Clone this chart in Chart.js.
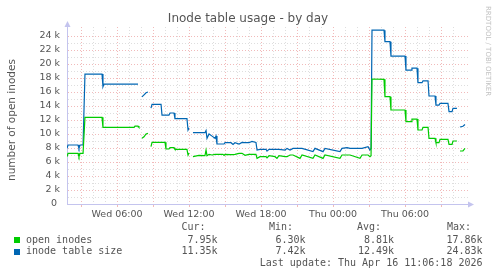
<!DOCTYPE html>
<html>
<head>
<meta charset="utf-8">
<script src="https://cdn.jsdelivr.net/npm/chart.js@4"></script>
<style>
  html, body { margin: 0; padding: 0; background: #fff; }
  #chart { display: block; }
</style>
</head>
<body>
<canvas id="chart" width="497" height="276"></canvas>
<script>
// hours since Wed 00:00 (one munin sample every 5 min, only the turning points kept)
const hours = [
    1.83, 1.92, 2.75, 2.83, 2.92, 3.17, 3.33, 4.75, 4.83, 4.92,
    7.42, 7.5, 7.75, 7.83, 7.92, 8.08, 8.25, 8.42, 8.58, 8.67,
    8.83, 8.92, 9.67, 9.75, 10.0, 10.08, 10.33, 10.42, 10.75, 10.83,
    11.83, 11.92, 12.0, 12.08, 12.33, 12.83, 13.33, 13.42, 13.5, 13.67,
    13.92, 14.17, 14.25, 14.33, 14.83, 14.92, 15.0, 15.5, 15.67, 15.83,
    16.17, 16.42, 16.67, 17.0, 17.25, 17.58, 17.67, 17.92, 18.42, 18.5,
    18.67, 19.17, 19.33, 19.5, 20.0, 20.17, 20.42, 20.67, 21.25, 21.42,
    22.33, 22.5, 23.17, 23.33, 24.58, 24.75, 25.17, 25.42, 26.25, 26.42,
    26.92, 27.08, 27.17, 27.25, 28.25, 28.33, 28.75, 28.83, 30.0, 30.08,
    30.5, 30.58, 31.0, 31.08, 31.42, 31.5, 31.92, 32.0, 32.5, 32.58,
    32.83, 32.92, 33.58, 33.67, 33.92, 34.0, 34.33, 34.42, 34.58, 34.83,
    35.0
];

// thousands of inodes
const openInodes = [
    6.76, 7.24, 7.24, 6.76, 7.24, 7.24, 12.38, 12.38, 10.95, 10.95,
    10.95, 11.14, 11.14, 10.95, null, 9.4, 9.6, 10.0, 10.1, null,
    8.2, 8.81, 8.81, 8.81, 8.81, 7.86, 7.86, 8.05, 8.05, 7.81,
    7.81, 7.0, 7.3, null, 6.76, 6.95, 6.9, 7.71, 6.9, 7.1,
    7.0, 7.1, 7.1, 7.1, 7.1, 6.95, 7.1, 7.05, 7.05, 7.1,
    7.24, 7.24, 6.95, 7.1, 7.1, 7.1, 6.52, 6.76, 6.76, 6.6,
    6.9, 6.76, 6.52, 6.9, 6.76, 6.76, 7.0, 7.0, 6.52, 7.0,
    6.52, 7.0, 6.52, 7.0, 6.52, 7.0, 7.0, 7.0, 6.52, 7.0,
    7.0, 6.76, 6.9, 17.86, 17.81, 15.33, 15.33, 13.43, 13.43, 11.76,
    11.76, 12.14, 12.14, 10.57, 10.57, 10.95, 10.95, 9.38, 9.38, 8.76,
    8.76, 9.24, 9.24, 8.53, 8.53, 9.0, 9.0, null, 7.57, 7.6,
    7.95
];

const tableSize = [
    7.95, 8.43, 8.43, 7.95, 8.43, 8.43, 18.57, 18.57, 16.76, 17.14,
    17.14, 17.14, 17.14, 17.14, null, 15.3, 15.6, 15.9, 16.0, null,
    13.7, 14.24, 14.24, 12.7, 12.7, 12.7, 12.7, 13.0, 13.0, 12.2,
    12.2, 10.57, 10.85, null, 10.19, 10.19, 10.19, 10.5, 9.38, 10.0,
    9.7, 9.38, 9.7, 8.57, 8.57, 8.57, 8.76, 8.76, 8.5, 8.76,
    8.57, 8.8, 8.76, 8.76, 8.95, 8.8, 7.71, 7.81, 7.81, 7.55,
    7.81, 7.81, 7.81, 7.81, 7.71, 7.95, 7.71, 7.95, 7.95, 7.95,
    7.48, 7.95, 7.48, 7.95, 7.48, 7.95, 8.05, 7.95, 7.95, 7.95,
    8.2, 7.71, 7.95, 24.83, 24.83, 23.19, 23.19, 21.14, 21.14, 19.14,
    19.14, 19.4, 19.4, 17.33, 17.33, 17.6, 17.6, 15.43, 15.43, 14.14,
    14.14, 14.38, 14.38, 13.19, 13.19, 13.67, 13.67, null, 11.0, 11.1,
    11.35
];

const tickHours = [6, 12, 18, 24, 30];
const tickLabels = ['Wed 06:00', 'Wed 12:00', 'Wed 18:00', 'Thu 00:00', 'Thu 06:00'];

const seriesNames = ['open inodes', 'inode table size'];
const seriesColors = ['#00cc00', '#0066b3'];
const curValues = ['7.95k', '11.35k'];
const minValues = ['6.30k', '7.42k'];
const avgValues = ['8.81k', '12.49k'];
const maxValues = ['17.86k', '24.83k'];

const MAJOR = 'rgba(232, 140, 140, 0.6)';
const MINOR = 'rgba(200, 200, 200, 0.6)';
const AXIS = '#c4c4ee';
const TEXT = '#555';

const toPoints = (vals) => hours.map((h, i) => ({ x: h, y: vals[i] }));

// title, axis title, legend table and the axis arrows
const muninDecor = {
    id: 'muninDecor',
    afterDraw(chart) {
        const ctx = chart.ctx;
        const area = chart.chartArea;
        ctx.save();

        // arrows
        ctx.fillStyle = AXIS;
        ctx.beginPath();
        ctx.moveTo(area.right + 6, area.bottom + 0.5);
        ctx.lineTo(area.right, area.bottom - 2.5);
        ctx.lineTo(area.right, area.bottom + 3.5);
        ctx.fill();
        ctx.beginPath();
        ctx.moveTo(area.left + 0.5, area.top - 6);
        ctx.lineTo(area.left - 2.5, area.top);
        ctx.lineTo(area.left + 3.5, area.top);
        ctx.fill();
        ctx.strokeStyle = AXIS;
        ctx.beginPath();
        ctx.moveTo(area.right, area.bottom + 0.5);
        ctx.lineTo(area.right + 2, area.bottom + 0.5);
        ctx.stroke();

        ctx.fillStyle = TEXT;
        ctx.textBaseline = 'middle';
        ctx.textAlign = 'center';
        ctx.font = '12px "DejaVu Sans"';
        ctx.fillText('Inode table usage - by day', 248, 19);

        ctx.save();
        ctx.translate(12, 120);
        ctx.rotate(-Math.PI / 2);
        ctx.font = '10.5px "DejaVu Sans"';
        ctx.fillText('number of open inodes', 0, 0);
        ctx.restore();

        ctx.save();
        ctx.translate(488, 6);
        ctx.rotate(Math.PI / 2);
        ctx.textAlign = 'left';
        ctx.fillStyle = '#c2c2c2';
        ctx.font = '7px "DejaVu Sans"';
        ctx.fillText('RRDTOOL / TOBI OETIKER', 0, 0);
        ctx.restore();

        // legend table
        ctx.font = '10px "DejaVu Sans Mono"';
        ctx.textAlign = 'left';
        ctx.fillText('Cur:', 181.5, 227);
        ctx.fillText('Min:', 269, 227);
        ctx.fillText('Avg:', 357, 227);
        ctx.fillText('Max:', 447, 227);
        const rowY = [240, 251.7];
        const cols = [[curValues, 217.5], [minValues, 305.5], [avgValues, 394], [maxValues, 482.5]];
        seriesNames.forEach((name, i) => {
            ctx.fillStyle = seriesColors[i];
            ctx.fillRect(14, Math.round(rowY[i]) - 3, 6, 6);
            ctx.fillStyle = TEXT;
            ctx.textAlign = 'left';
            ctx.fillText(name, 26, rowY[i]);
            ctx.textAlign = 'right';
            cols.forEach(([vals, x]) => ctx.fillText(vals[i], x, rowY[i]));
        });
        ctx.textAlign = 'right';
        ctx.fillText('Last update: Thu Apr 16 11:06:18 2026', 482.5, 263.5);

        ctx.restore();
    }
};

new Chart(document.getElementById('chart'), {
    type: 'line',
    data: {
        datasets: [
            {
                label: seriesNames[0],
                data: toPoints(openInodes),
                borderColor: seriesColors[0],
                borderWidth: 1.2,
                pointRadius: 0,
                tension: 0,
                spanGaps: false
            },
            {
                label: seriesNames[1],
                data: toPoints(tableSize),
                borderColor: seriesColors[1],
                borderWidth: 1.2,
                pointRadius: 0,
                tension: 0,
                spanGaps: false
            }
        ]
    },
    options: {
        responsive: false,
        animation: false,
        devicePixelRatio: 1,
        layout: { padding: { left: 0, top: 27, right: 29, bottom: 52 } },
        plugins: {
            legend: { display: false },
            tooltip: { enabled: false },
            title: { display: false }
        },
        scales: {
            x: {
                type: 'linear',
                min: 1.833,
                max: 35.25,
                afterFit: (scale) => { scale.height = 20; },
                ticks: {
                    stepSize: 1,
                    autoSkip: false,
                    maxRotation: 0,
                    padding: 2,
                    color: TEXT,
                    font: { family: 'DejaVu Sans', size: 9.5 },
                    callback: (v) => {
                        const k = tickHours.indexOf(v);
                        return k >= 0 ? tickLabels[k] : '';
                    }
                },
                grid: {
                    drawTicks: true,
                    tickLength: 3,
                    lineWidth: 1,
                    color: (c) => {
                        const v = c.tick && c.tick.value;
                        if (!Number.isInteger(v)) return 'transparent';
                        return v % 3 === 0 ? MAJOR : MINOR;
                    },
                    tickColor: (c) => {
                        const v = c.tick && c.tick.value;
                        return Number.isInteger(v) && v % 3 === 0 ? MAJOR : 'transparent';
                    }
                },
                border: { display: true, color: AXIS, width: 1, dash: [1, 2] }
            },
            y: {
                min: 0,
                max: 25.29,
                afterFit: (scale) => { scale.width = 67; },
                ticks: {
                    stepSize: 1,
                    autoSkip: false,
                    padding: 7,
                    color: TEXT,
                    font: { family: 'DejaVu Sans', size: 9.5 },
                    callback: (v) => {
                        if (!Number.isInteger(v) || v % 2 !== 0) return '';
                        return v === 0 ? '0 ' : v + ' k';
                    }
                },
                grid: {
                    drawTicks: false,
                    lineWidth: 1,
                    color: (c) => {
                        const v = c.tick && c.tick.value;
                        if (!Number.isInteger(v) || v === 0) return 'transparent';
                        return v % 2 === 0 ? MAJOR : MINOR;
                    }
                },
                border: { display: true, color: AXIS, width: 1, dash: [1, 2] }
            }
        }
    },
    plugins: [muninDecor]
});
</script>
</body>
</html>
